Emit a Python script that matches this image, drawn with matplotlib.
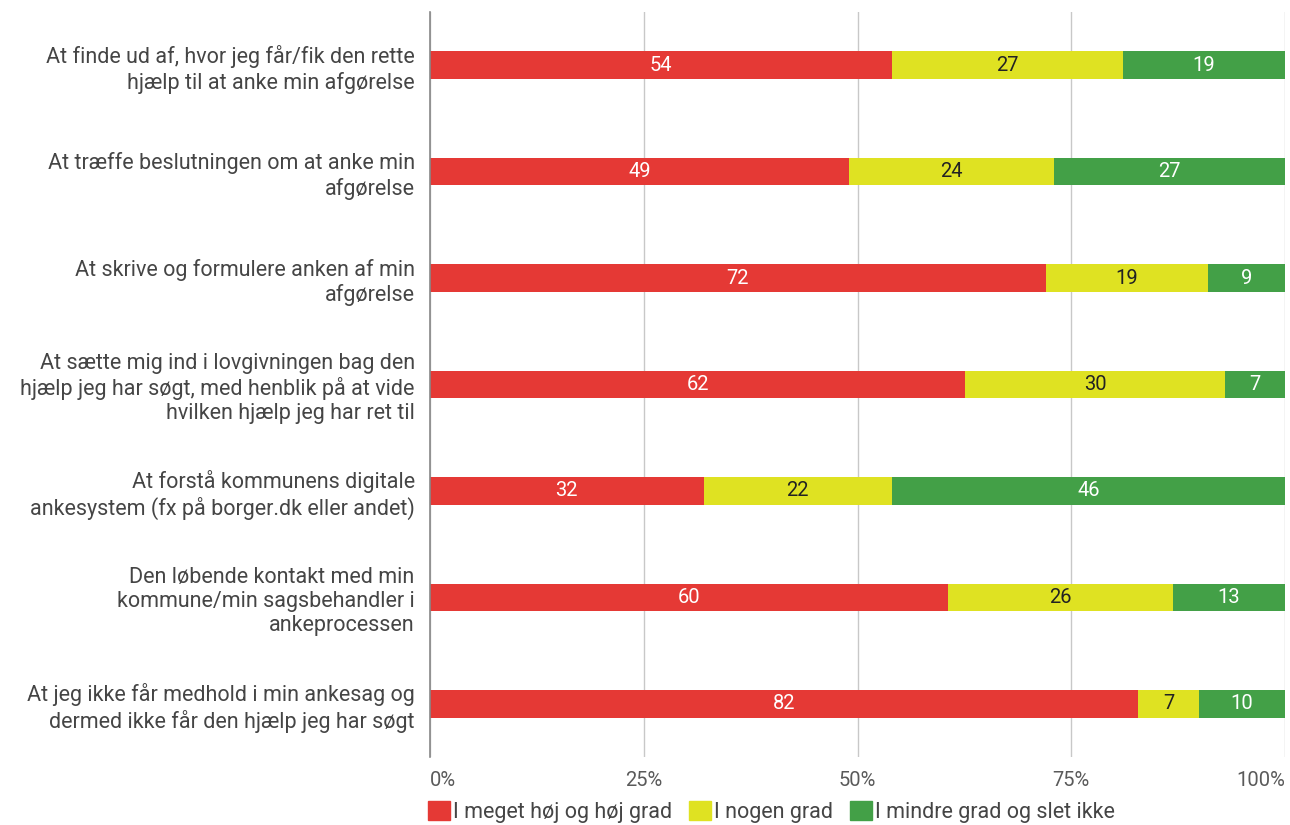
import numpy as np
import matplotlib
matplotlib.use("Agg")
import matplotlib.pyplot as plt
from matplotlib.patches import Patch

plt.rcParams['font.family'] = ['Roboto', 'DejaVu Sans']

categories = [
    "At finde ud af, hvor jeg får/fik den rette\nhjælp til at anke min afgørelse",
    "At træffe beslutningen om at anke min\nafgørelse",
    "At skrive og formulere anken af min\nafgørelse",
    "At sætte mig ind i lovgivningen bag den\nhjælp jeg har søgt, med henblik på at vide\nhvilken hjælp jeg har ret til",
    "At forstå kommunens digitale\nankesystem (fx på borger.dk eller andet)",
    "Den løbende kontakt med min\nkommune/min sagsbehandler i\nankeprocessen",
    "At jeg ikke får medhold i min ankesag og\ndermed ikke får den hjælp jeg har søgt",
]
high = [54, 49, 72, 62, 32, 60, 82]
some = [27, 24, 19, 30, 22, 26, 7]
low = [19, 27, 9, 7, 46, 13, 10]

series_names = ["I meget høj og høj grad", "I nogen grad", "I mindre grad og slet ikke"]
colors = ["#E53935", "#DFE222", "#43A047"]
text_colors = ["white", "#222222", "white"]

data = np.array([high, some, low], dtype=float)
shares = data / data.sum(axis=0) * 100

fig = plt.figure(figsize=(12.9, 8.25), dpi=100)
ax = fig.add_axes([430 / 1290, 1 - 757 / 825, 855 / 1290, 745 / 825])

y = np.arange(len(categories))
left = np.zeros(len(categories))
for i in range(3):
    bars = ax.barh(y, shares[i], left=left, height=0.26, color=colors[i], zorder=3)
    for b, v in zip(bars, data[i]):
        ax.text(b.get_x() + b.get_width() / 2, b.get_y() + b.get_height() / 2,
                f"{v:.0f}", ha="center", va="center", fontsize=14.5,
                color=text_colors[i], zorder=4)
    left += shares[i]

ax.set_xlim(0, 100)
ax.set_ylim(len(categories) - 0.5, -0.5)
ax.set_xticks([0, 25, 50, 75, 100])
ax.set_xticklabels(["0%", "25%", "50%", "75%", "100%"], fontsize=14.5, color="#5a5a5a")
ax.set_yticks(y)
ax.set_yticklabels(categories, fontsize=15.5, color="#454545", linespacing=1.2)
ax.tick_params(axis="both", length=0)
ax.tick_params(axis="x", pad=10)
ax.tick_params(axis="y", pad=11)
xlabels = ax.get_xticklabels()
xlabels[0].set_horizontalalignment("left")
xlabels[-1].set_horizontalalignment("right")

ax.grid(axis="x", color="#C8C8C8", linewidth=1, zorder=0)
for s in ["top", "right", "bottom"]:
    ax.spines[s].set_visible(False)
ax.spines["left"].set_color("#888888")
ax.spines["left"].set_linewidth(1.2)
ax.spines["left"].set_zorder(5)

handles = [Patch(facecolor=c, edgecolor=c, label=n) for c, n in zip(colors, series_names)]
fig.legend(handles=handles, loc="center left", bbox_to_anchor=(428 / 1290, 1 - 812 / 825),
           ncol=3, frameon=False, fontsize=15.5, handlelength=1.0, handleheight=1.0,
           handletextpad=0.15, columnspacing=0.8, borderpad=0, borderaxespad=0,
           labelcolor="#454545")

fig.savefig("out.png", dpi=100)
